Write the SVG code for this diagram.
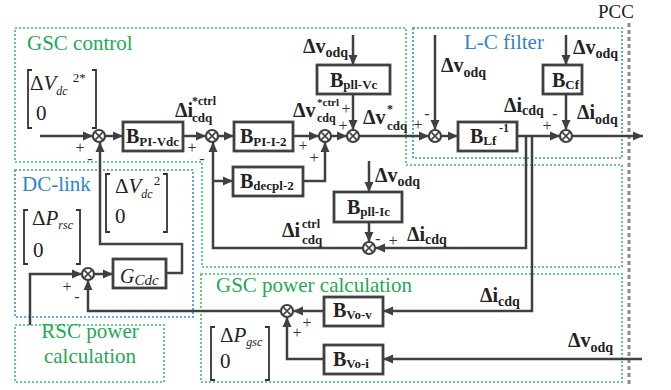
<svg xmlns="http://www.w3.org/2000/svg" xmlns:xlink="http://www.w3.org/1999/xlink" width="671" height="390" viewBox="0 0 671 390">
<style>
.ln{fill:none;stroke:#404040;stroke-width:2.5}
.blk{fill:#fff;stroke:#404040;stroke-width:2.8}
.br{fill:none;stroke:#333;stroke-width:1.8}
.gz{fill:none;stroke:#2fc468;stroke-width:1.6;stroke-dasharray:2 2}
.bz{fill:none;stroke:#3a8fd8;stroke-width:1.6;stroke-dasharray:2 2}
text{font-family:'Liberation Serif','Times New Roman','DejaVu Serif',serif}
.gt{font-size:21px;fill:#1eaa55}
.bt{font-size:21px;fill:#2f84cf}
.b{font-weight:bold;fill:#222}
.r{fill:#222}
.s{font-size:16px;fill:#333;text-anchor:middle}
</style>
<defs>
<marker id="ah" markerWidth="11" markerHeight="10" refX="10" refY="5" orient="auto" markerUnits="userSpaceOnUse"><path d="M0,0.5 L10,5 L0,9.5 z" fill="#404040"/></marker>
<g id="sj"><circle r="6" fill="#fff" stroke="#404040" stroke-width="2.2"/><path d="M-3.6,-3.6 L3.6,3.6 M-3.6,3.6 L3.6,-3.6" stroke="#404040" stroke-width="1.6"/></g>
</defs>
<rect width="671" height="390" fill="#fff"/>

<g id="regions">
<path class="gz" d="M15,28 H406 V165 H622 V267 H202 V162 H15 Z"/>
<rect class="bz" x="15" y="170" width="178" height="147"/>
<rect class="bz" x="413" y="28" width="209" height="130"/>
<rect class="gz" x="201" y="274" width="421" height="108"/>
<rect class="gz" x="15" y="325" width="149" height="57"/>
<line x1="629" y1="23" x2="629" y2="386" stroke="#8a8a8a" stroke-width="3" stroke-dasharray="4 3"/>
<text class="r" x="598" y="18" font-size="19">PCC</text>
<text class="gt" x="27" y="50">GSC control</text>
<text class="bt" x="22" y="191">DC-link</text>
<text class="bt" x="464" y="49">L-C filter</text>
<text class="gt" x="216" y="292">GSC power calculation</text>
<text class="gt" x="90" y="338" text-anchor="middle">RSC power</text>
<text class="gt" x="90" y="363" text-anchor="middle">calculation</text>
</g>

<g id="connectors">
<path class="ln" marker-end="url(#ah)" d="M40,136 H93"/>
<path class="ln" marker-end="url(#ah)" d="M105,136 H123"/>
<path class="ln" marker-end="url(#ah)" d="M183,136 H206"/>
<path class="ln" marker-end="url(#ah)" d="M218,136 H234"/>
<path class="ln" marker-end="url(#ah)" d="M293,136 H319"/>
<path class="ln" marker-end="url(#ah)" d="M331,136 H347"/>
<path class="ln" marker-end="url(#ah)" d="M359,136 H429"/>
<path class="ln" marker-end="url(#ah)" d="M441,136 H458"/>
<path class="ln" marker-end="url(#ah)" d="M517,136 H560"/>
<path class="ln" marker-end="url(#ah)" d="M572,136 H643"/>
<path class="ln" marker-end="url(#ah)" d="M353,35 V65"/>
<path class="ln" marker-end="url(#ah)" d="M353,94 V130"/>
<path class="ln" marker-end="url(#ah)" d="M435,35 V130"/>
<path class="ln" marker-end="url(#ah)" d="M566,35 V65"/>
<path class="ln" marker-end="url(#ah)" d="M566,94 V130"/>
<path class="ln" marker-end="url(#ah)" d="M303,181 H325 V142"/>
<path class="ln" marker-end="url(#ah)" d="M363,248 H213 V142"/>
<path class="ln" marker-end="url(#ah)" d="M213,181 H233"/>
<path class="ln" marker-end="url(#ah)" d="M526,136 V248 H375"/>
<path class="ln" marker-end="url(#ah)" d="M532,136 V311 H383"/>
<path class="ln" marker-end="url(#ah)" d="M369,161 V192"/>
<path class="ln" marker-end="url(#ah)" d="M369,223 V242"/>
<path class="ln" marker-end="url(#ah)" d="M324,311 H293"/>
<path class="ln" marker-end="url(#ah)" d="M324,359 H287 V317"/>
<path class="ln" marker-end="url(#ah)" d="M642,359 H383"/>
<path class="ln" marker-end="url(#ah)" d="M281,311 H88 V280"/>
<path class="ln" marker-end="url(#ah)" d="M30,325 V274 H82"/>
<path class="ln" marker-end="url(#ah)" d="M94,274 H113"/>
<path class="ln" marker-end="url(#ah)" d="M166,273 H182 V244 H100 V142"/>
</g>

<g id="sum1"><use xlink:href="#sj" x="99" y="136"/><text class="s" x="80" y="153">+</text><text class="s" x="90" y="164">-</text></g>
<g id="sum2"><use xlink:href="#sj" x="212" y="136"/><text class="s" x="192" y="153">+</text><text class="s" x="202" y="164">-</text></g>
<g id="sum4"><use xlink:href="#sj" x="325" y="136"/><text class="s" x="303" y="151">+</text><text class="s" x="314" y="163">+</text></g>
<g id="sum5"><use xlink:href="#sj" x="353" y="136"/><text class="s" x="346" y="114" font-size="14">+</text><text class="s" x="343" y="131" font-size="14">+</text></g>
<g id="sum7"><use xlink:href="#sj" x="435" y="136"/><text class="s" x="418" y="130">+</text><text class="s" x="427" y="119">-</text></g>
<g id="sum8"><use xlink:href="#sj" x="566" y="136"/><text class="s" x="547" y="131">+</text><text class="s" x="555" y="119">-</text></g>
<g id="sum3"><use xlink:href="#sj" x="88" y="274"/><text class="s" x="67" y="292">+</text><text class="s" x="77" y="302">-</text></g>
<g id="sum6"><use xlink:href="#sj" x="369" y="248"/><text class="s" x="378" y="244">-</text><text class="s" x="393" y="246">+</text></g>
<g id="sum9"><use xlink:href="#sj" x="287" y="311"/><text class="s" x="307" y="328">+</text><text class="s" x="297" y="338">+</text></g>

<g id="B_PI_Vdc"><rect class="blk" x="123" y="122" width="60" height="29"/><text class="b" x="126" y="143" font-size="20">B<tspan font-size="13" dy="3">PI-Vdc</tspan></text></g>
<g id="B_PI_I_2"><rect class="blk" x="234" y="122" width="59" height="29"/><text class="b" x="240" y="143" font-size="20">B<tspan font-size="13" dy="3">PI-I-2</tspan></text></g>
<g id="B_decpl_2"><rect class="blk" x="233" y="167" width="70" height="29"/><text class="b" x="240" y="188" font-size="20">B<tspan font-size="13" dy="2">decpl-2</tspan></text></g>
<g id="B_pll_Vc"><rect class="blk" x="317" y="65" width="73" height="29"/><text class="b" x="330" y="87" font-size="20">B<tspan font-size="13" dy="2">pll-Vc</tspan></text></g>
<g id="B_pll_Ic"><rect class="blk" x="334" y="192" width="68" height="30"/><text class="b" x="347" y="214" font-size="20">B<tspan font-size="13" dy="2">pll-Ic</tspan></text></g>
<g id="B_Lf"><rect class="blk" x="458" y="122" width="59" height="29"/><text class="b" x="470" y="143" font-size="20">B<tspan font-size="13" dy="2">Lf</tspan></text><text class="b" x="499" y="132" font-size="12">-1</text></g>
<g id="B_Cf"><rect class="blk" x="543" y="65" width="39" height="29"/><text class="b" x="552" y="87" font-size="20">B<tspan font-size="13" dy="2">Cf</tspan></text></g>
<g id="G_Cdc"><rect class="blk" x="113" y="259" width="53" height="29"/><text class="r" x="120" y="283" font-size="20" font-style="italic">G<tspan font-size="15" dy="2">Cdc</tspan></text></g>
<g id="B_Vo_v"><rect class="blk" x="324" y="297" width="59" height="29"/><text class="b" x="333" y="317" font-size="20">B<tspan font-size="13" dy="2">Vo-v</tspan></text></g>
<g id="B_Vo_i"><rect class="blk" x="324" y="345" width="59" height="29"/><text class="b" x="333" y="366" font-size="20">B<tspan font-size="13" dy="2">Vo-i</tspan></text></g>

<g id="vec_Vdc2ref">
<path class="br" d="M32,70 H28 V128 H32 M92,70 H96 V128 H92"/>
<text class="r" x="30" y="90" font-size="21">Δ<tspan font-style="italic">V</tspan><tspan font-size="12" font-style="italic" dy="5">dc</tspan><tspan font-size="13" dy="-13" dx="5">2*</tspan></text>
<text class="r" x="36" y="120" font-size="21">0</text>
</g>
<g id="vec_Vdc2">
<path class="br" d="M110,174 H106 V232 H110 M163,174 H167 V232 H163"/>
<text class="r" x="115" y="193" font-size="21">Δ<tspan font-style="italic">V</tspan><tspan font-size="12" font-style="italic" dy="5">dc</tspan><tspan font-size="13" dy="-13" dx="1">2</tspan></text>
<text class="r" x="115" y="223" font-size="21">0</text>
</g>
<g id="vec_Prsc">
<path class="br" d="M28,210 H24 V264 H28 M76,210 H80 V264 H76"/>
<text class="r" x="32" y="225" font-size="21">Δ<tspan font-style="italic">P</tspan><tspan font-size="12" font-style="italic" dy="4">rsc</tspan></text>
<text class="r" x="33" y="257" font-size="21">0</text>
</g>
<g id="vec_Pgsc">
<path class="br" d="M215,327 H211 V380 H215 M265,327 H269 V380 H265"/>
<text class="r" x="220" y="342" font-size="21">Δ<tspan font-style="italic">P</tspan><tspan font-size="12" font-style="italic" dy="4">gsc</tspan></text>
<text class="r" x="220" y="368" font-size="21">0</text>
</g>

<g id="labels">
<text class="b" x="175" y="117" font-size="20">Δi</text><text class="b" x="192" y="105" font-size="12">*ctrl</text><text class="b" x="192" y="122" font-size="13">cdq</text>
<text class="b" x="293" y="117" font-size="20">Δv</text><text class="b" x="317" y="106" font-size="11">*ctrl</text><text class="b" x="317" y="122" font-size="12">cdq</text>
<text class="b" x="363" y="124" font-size="20">Δv</text><text class="b" x="387" y="113" font-size="12">*</text><text class="b" x="387" y="130" font-size="13">cdq</text>
<text class="b" x="303" y="53" font-size="20">Δv<tspan font-size="14" dy="4">odq</tspan></text>
<text class="b" x="441" y="72" font-size="20">Δv<tspan font-size="14" dy="5">odq</tspan></text>
<text class="b" x="573" y="54" font-size="20">Δv<tspan font-size="14" dy="4">odq</tspan></text>
<text class="b" x="504" y="112" font-size="20">Δi<tspan font-size="14" dy="3">cdq</tspan></text>
<text class="b" x="577" y="119" font-size="20">Δi<tspan font-size="14" dy="5">odq</tspan></text>
<text class="b" x="375" y="182" font-size="20">Δv<tspan font-size="14" dy="4">odq</tspan></text>
<text class="b" x="407" y="241" font-size="20">Δi<tspan font-size="14" dy="3">cdq</tspan></text>
<text class="b" x="282" y="237" font-size="20">Δi</text><text class="b" x="302" y="228" font-size="12">ctrl</text><text class="b" x="302" y="244" font-size="13">cdq</text>
<text class="b" x="480" y="302" font-size="20">Δi<tspan font-size="14" dy="4">cdq</tspan></text>
<text class="b" x="568" y="347" font-size="20">Δv<tspan font-size="14" dy="5">odq</tspan></text>
</g>
</svg>
